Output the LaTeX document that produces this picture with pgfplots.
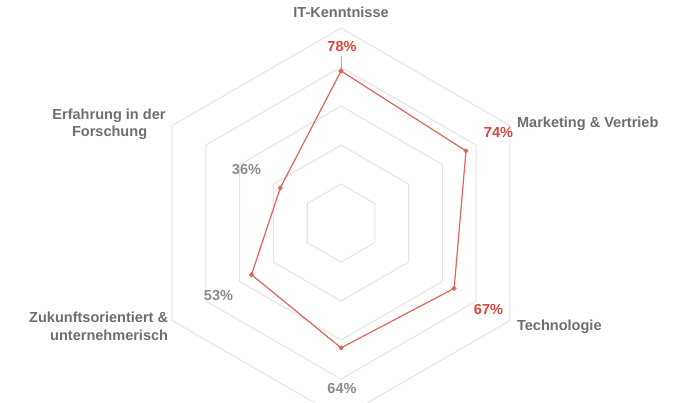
\documentclass[border=0pt]{standalone}
\usepackage{pgfplots}
\pgfplotsset{compat=1.18}
\usepackage{fontspec}
\setmainfont{Liberation Sans}
\definecolor{redtxt}{RGB}{214,72,60}
\definecolor{redline}{RGB}{224,100,90}
\definecolor{labgray}{RGB}{110,110,110}
\definecolor{valgray}{RGB}{140,140,140}
\definecolor{gridgray}{RGB}{228,228,228}
\tikzset{lab/.style={inner sep=0pt, outer sep=0pt, font=\fontsize{10.9}{13}\selectfont\bfseries}}
\begin{document}
\begin{tikzpicture}
\begin{axis}[
  x=1.4625pt, y=1.4625pt,
  xmin=-174.9, xmax=171.8, ymin=-91.8, ymax=114.4,
  hide axis, clip=false,
]
% grid hexagons
\addplot[gridgray, line width=0.8pt, data cs=polar] coordinates {(90,20)(30,20)(-30,20)(-90,20)(-150,20)(150,20)(90,20)};
\addplot[gridgray, line width=0.8pt, data cs=polar] coordinates {(90,40)(30,40)(-30,40)(-90,40)(-150,40)(150,40)(90,40)};
\addplot[gridgray, line width=0.8pt, data cs=polar] coordinates {(90,60)(30,60)(-30,60)(-90,60)(-150,60)(150,60)(90,60)};
\addplot[gridgray, line width=0.8pt, data cs=polar] coordinates {(90,80)(30,80)(-30,80)(-90,80)(-150,80)(150,80)(90,80)};
\addplot[gridgray, line width=0.8pt, data cs=polar] coordinates {(90,100)(30,100)(-30,100)(-90,100)(-150,100)(150,100)(90,100)};
% leader line
\addplot[valgray!70, line width=0.6pt, data cs=polar] coordinates {(90,78)(90,85.5)};
% data
\addplot[redline, line width=0.9pt, mark=*, mark size=1.3pt, mark options={fill=redline, draw=redline}, data cs=polar]
  coordinates {(90,78)(30,74)(-30,67)(-90,64)(-150,53)(150,36)(90,78)};
% category labels
\node[lab, labgray, anchor=base] at (axis cs:0,105.5) {IT-Kenntnisse};
\node[lab, labgray, anchor=base west] at (axis cs:90.3,49.1) {Marketing \& Vertrieb};
\node[lab, labgray, anchor=base west] at (axis cs:90.3,-54.9) {Technologie};
\node[lab, labgray, anchor=base east] at (axis cs:-88.7,-51.1) {Zukunftsorientiert \&};
\node[lab, labgray, anchor=base east] at (axis cs:-88.7,-60.0) {unternehmerisch};
\node[lab, labgray, anchor=base] at (axis cs:-119,53.3) {Erfahrung in der};
\node[lab, labgray, anchor=base] at (axis cs:-118.7,44.3) {Forschung};
% values
\node[lab, redtxt, anchor=base] at (axis cs:0.5,87.8) {78\%};
\node[lab, redtxt, anchor=base east] at (axis cs:88.2,43.9) {74\%};
\node[lab, redtxt, anchor=base east] at (axis cs:83.1,-46.8) {67\%};
\node[lab, valgray, anchor=base] at (axis cs:0.5,-87.3) {64\%};
\node[lab, valgray, anchor=base east] at (axis cs:-55.4,-39.5) {53\%};
\node[lab, valgray, anchor=base east] at (axis cs:-41.0,25.1) {36\%};
\coordinate (bl) at (axis cs:-174.9,-91.8);
\coordinate (tr) at (axis cs:171.8,114.4);
\end{axis}
\pgfresetboundingbox
\useasboundingbox (bl) rectangle (tr);
\end{tikzpicture}
\end{document}
